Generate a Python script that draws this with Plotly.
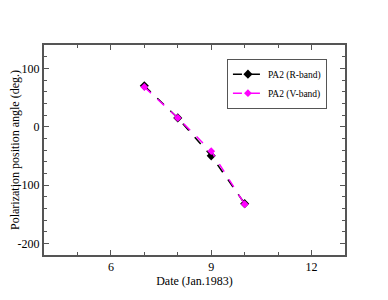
import plotly.graph_objects as go

dates = [7, 8, 9, 10]
pa2_r = [70, 15, -50, -132]
pa2_v = [68, 15, -42, -133]
y_ticks = [-200, -100, 0, 100]
y_tick_labels = ["-200", "-100", "0", "100"]
x_ticks = [6, 9, 12]

FONT = "Liberation Serif"

fig = go.Figure()
fig.add_trace(go.Scatter(x=dates, y=pa2_r, name="PA2 (R-band)", mode="lines+markers",
                         line=dict(color="black", dash="dash", width=1.5),
                         marker=dict(symbol="diamond", size=7, color="black")))
fig.add_trace(go.Scatter(x=dates, y=pa2_v, name="PA2 (V-band)", mode="lines+markers",
                         line=dict(color="#ff00ff", dash="dash", width=1.5),
                         marker=dict(symbol="diamond", size=6, color="#ff00ff")))

axis_common = dict(showline=True, linecolor="#555555", linewidth=2, mirror="allticks",
                   ticks="inside", ticklen=5, tickcolor="#555555", showgrid=False,
                   zeroline=False, automargin=False,
                   tickfont=dict(family=FONT, size=12, color="black"))
fig.update_xaxes(range=[4, 13], tickmode="array", tickvals=x_ticks,
                 minor=dict(ticks="inside", ticklen=3, dtick=1, tick0=0, tickcolor="#555555"),
                 title=dict(text="Date (Jan.1983)", font=dict(family=FONT, size=12), standoff=3),
                 **axis_common)
fig.update_yaxes(range=[-220, 140], tickmode="array", tickvals=y_ticks, ticktext=y_tick_labels,
                 minor=dict(ticks="inside", ticklen=3, dtick=20, tick0=0, tickcolor="#555555"),
                 title=dict(text="Polarization position angle (deg.)", font=dict(family=FONT, size=12), standoff=6),
                 **axis_common)
fig.update_layout(width=380, height=292, margin=dict(l=36, r=43, t=37, b=45),
                  plot_bgcolor="white", paper_bgcolor="white",
                  font=dict(family=FONT, color="black"),
                  legend=dict(x=0.94, y=0.935, xanchor="right", yanchor="top",
                              bgcolor="white", bordercolor="#555555", borderwidth=1,
                              font=dict(family=FONT, size=9.5), itemwidth=30, tracegroupgap=0))
fig.write_html("out.html")
